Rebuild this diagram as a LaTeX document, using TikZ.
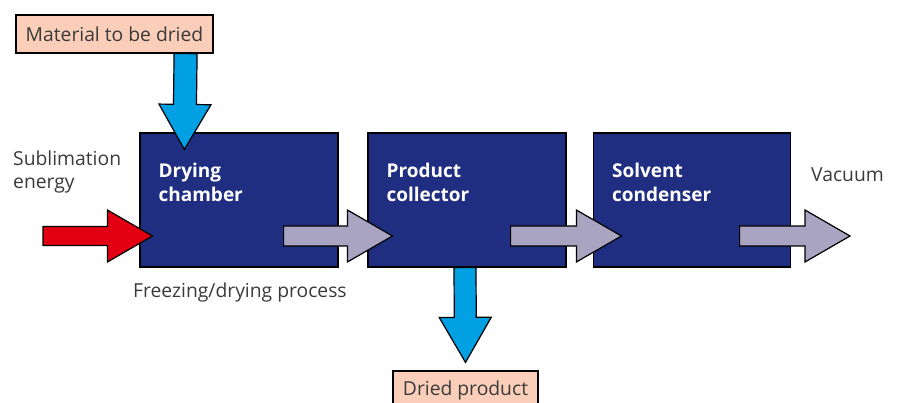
\documentclass[tikz,border=0pt]{standalone}
\usepackage{fontspec}
\setmainfont{Open Sans}
\usetikzlibrary{calc}

\definecolor{unitblue}{RGB}{31,46,128}
\definecolor{feedblue}{RGB}{0,160,226}
\definecolor{heatred}{RGB}{226,0,18}
\definecolor{gasgrey}{RGB}{168,164,194}
\definecolor{tagpink}{RGB}{250,206,184}
\definecolor{textgrey}{RGB}{58,58,58}

\tikzset{
  unit/.style={draw=black, fill=unitblue, line width=1.2pt, minimum width=198pt, minimum height=134pt, inner sep=0pt},
  unitname/.style={anchor=north west, inner sep=0pt, align=left, text=white, font=\bfseries\fontsize{19}{24}\selectfont},
  tag/.style={draw=black, fill=tagpink, line width=1.2pt, minimum height=38pt, inner sep=0pt, text=textgrey, font=\fontsize{19.3}{23}\selectfont},
  note/.style={anchor=north west, inner sep=0pt, align=left, text=textgrey, font=\fontsize{19.3}{23}\selectfont},
  flow/.style={draw=black, line width=1.2pt, line join=miter, to path={
    ($(\tikztostart)!#1pt!90:(\tikztotarget)$)
    -- ($(\tikztotarget)!45pt!(\tikztostart)!#1pt!90:(\tikztotarget)$)
    -- ($(\tikztotarget)!45pt!(\tikztostart)!26pt!90:(\tikztotarget)$)
    -- (\tikztotarget)
    -- ($(\tikztotarget)!45pt!(\tikztostart)!26pt!-90:(\tikztotarget)$)
    -- ($(\tikztotarget)!45pt!(\tikztostart)!#1pt!-90:(\tikztotarget)$)
    -- ($(\tikztostart)!#1pt!-90:(\tikztotarget)$)
    -- cycle}},
  flow/.default=10
}

\begin{document}
\begin{tikzpicture}[x=1pt, y=-1pt]
    \useasboundingbox (0,0) rectangle (897,403);
    % process units
    \node [unit] at (239,200) (chamber) {};
    \node [unit] at (467,200) (collector) {};
    \node [unit, minimum width=197pt] at (692,200) (condenser) {};
    \node [unitname] at ([shift={(19,30)}]chamber.north west) (chambername) {Drying\\chamber};
    \node [unitname] at ([shift={(19,30)}]collector.north west) (collectorname) {Product\\collector};
    \node [unitname] at ([shift={(19,30)}]condenser.north west) (condensername) {Solvent\\condenser};
    % inputs and outputs
    \node [tag, minimum width=197pt] at (114.5,34) (material) {Material to be dried};
    \node [tag, minimum width=145pt] at (465.5,390) (dried) {Dried product};
    \node [note] at (13,151) (energy) {Sublimation\\energy};
    \node [note] at (133,283) (process) {Freezing/drying process};
    \node [note] at (811,168) (vacuum) {Vacuum};
    \coordinate (heatin) at (43,236);
    \coordinate (vacuumout) at (850,236);
    % flows
    \draw [flow=11.5, fill=feedblue] ([shift={(-28,0)}]material.south east) to ([shift={(45,17)}]chamber.north west);
    \draw [flow=9.5, fill=heatred] (heatin) to ([shift={(13,36)}]chamber.west);
    \draw [flow, fill=gasgrey] ([shift={(-55,36)}]chamber.east) to ([shift={(25,36)}]collector.west);
    \draw [flow, fill=gasgrey] ([shift={(-56,36)}]collector.east) to ([shift={(28.5,36)}]condenser.west);
    \draw [flow, fill=gasgrey] ([shift={(-51.5,36)}]condenser.east) to (vacuumout);
    \draw [flow=11, fill=feedblue] ([shift={(-2,0)}]collector.south) to ([shift={(0,-8)}]dried.north);
\end{tikzpicture}
\end{document}
